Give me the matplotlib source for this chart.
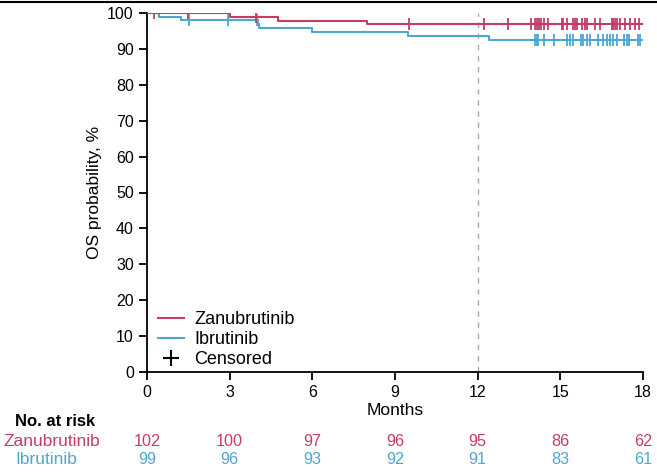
import numpy as np
import matplotlib.pyplot as plt
from matplotlib.lines import Line2D

plt.rcParams['font.family'] = ['Liberation Sans', 'DejaVu Sans']

# KM step data (months, OS %)
zanu_t = [0, 3.0, 4.74, 8.0, 18.02]
zanu_s = [100, 99.0, 97.9, 96.8, 96.8]
ibru_t = [0, 0.44, 1.23, 4.04, 4.08, 5.97, 9.48, 12.4, 18.1]
ibru_s = [100, 99.0, 98.0, 96.9, 95.9, 94.7, 93.6, 92.5, 92.5]

# censored times
zanu_cens = [0.25, 1.49, 3.96, 9.51, 12.23, 13.10, 13.93, 14.08, 14.15, 14.22, 14.30,
             14.41, 14.55, 15.06, 15.09, 15.24, 15.46, 15.52, 15.60, 15.78, 15.89,
             15.97, 16.26, 16.44, 16.87, 16.91, 16.98, 17.05, 17.16, 17.34, 17.53,
             17.71, 17.85]
ibru_cens = [1.52, 2.94, 3.99, 14.08, 14.15, 14.19, 14.41, 14.77, 15.24, 15.35,
             15.46, 15.75, 15.82, 15.97, 16.07, 16.36, 16.55, 16.69, 16.80, 16.91,
             17.05, 17.31, 17.42, 17.49, 17.82, 17.89]

risk_times = [0, 3, 6, 9, 12, 15, 18]
zanu_risk = [102, 100, 97, 96, 95, 86, 62]
ibru_risk = [99, 96, 93, 92, 91, 83, 61]

red = '#C53D64'
blue = '#4EA6D3'


def surv_at(times, surv, x):
    idx = np.searchsorted(times, x, side='right') - 1
    return np.array(surv)[idx]


fig = plt.figure(figsize=(6.57, 4.72), dpi=100)
ax = fig.add_axes([147/657, 1-372/472, 496/657, 359/472])

ax.axvline(12, color='#AAAAAA', lw=1, ls=(0, (4, 4)), zorder=1)
ax.step(zanu_t, zanu_s, where='post', color=red, lw=1.5, zorder=3)
ax.step(ibru_t, ibru_s, where='post', color=blue, lw=1.5, zorder=2)
ax.plot(zanu_cens, surv_at(zanu_t, zanu_s, zanu_cens), ls='none', marker='|',
        ms=9, mew=1.3, color=red, zorder=3)
ax.plot(ibru_cens, surv_at(ibru_t, ibru_s, ibru_cens), ls='none', marker='|',
        ms=9, mew=1.3, color=blue, zorder=2)

ax.set_xlim(0, 18)
ax.set_ylim(0, 100)
ax.set_xticks(risk_times)
ax.set_yticks(range(0, 101, 10))
ax.spines['top'].set_visible(False)
ax.spines['right'].set_visible(False)
ax.spines['left'].set_linewidth(1.3)
ax.spines['bottom'].set_linewidth(1.3)
ax.tick_params(direction='out', length=6, width=1.3, labelsize=11.5)
ax.set_xlabel('Months', fontsize=12.5, labelpad=2)
ax.set_ylabel('OS probability, %', fontsize=12.5, labelpad=4)

handles = [Line2D([], [], color=red, lw=1.5),
           Line2D([], [], color=blue, lw=1.5),
           Line2D([], [], ls='none', marker='+', color='black', ms=11, mew=1.5)]
ax.legend(handles, ['Zanubrutinib', 'Ibrutinib', 'Censored'], loc='lower left',
          frameon=False, fontsize=13, handlelength=1.45, handletextpad=0.55,
          labelspacing=0.18, borderpad=0, borderaxespad=0,
          bbox_to_anchor=(0.022, 0.01))

# number at risk table
fig.text(15/657, 1-422/472, 'No. at risk', fontsize=12, fontweight='bold', va='center')
fig.text(4/657, 1-441/472, 'Zanubrutinib', fontsize=12.5, color=red, va='center')
fig.text(15/657, 1-459/472, 'Ibrutinib', fontsize=12.5, color=blue, va='center')
for t, z, b in zip(risk_times, zanu_risk, ibru_risk):
    x_fig = (147 + t * 496 / 18) / 657
    fig.text(x_fig, 1-441/472, str(z), fontsize=11.7, color=red, ha='center', va='center')
    fig.text(x_fig, 1-459/472, str(b), fontsize=11.7, color=blue, ha='center', va='center')

fig.add_artist(Line2D([0, 1], [1-2/472, 1-2/472], color='black', lw=1.5))

fig.savefig('out.png', dpi=100)
